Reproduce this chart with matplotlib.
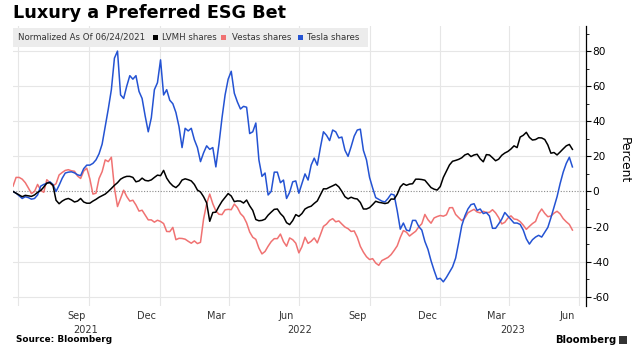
import matplotlib
matplotlib.use("Agg")
import matplotlib.pyplot as plt
import matplotlib.transforms as mtransforms
from matplotlib.patches import Rectangle
import pandas as pd

plt.rcParams['font.family'] = ['DejaVu Sans']
plt.rcParams['axes.unicode_minus'] = False

# sampled every 4 days from the normalisation date
dates = pd.date_range("2021-06-24", periods=183, freq="4D")

lvmh = [0, -1, -2, -3, -2.2, -2.5, -2.8, -2, -0.5, 0.5,
        2.5, 4.8, 5, 3.5, -5, -7, -5.5, -4.5, -4, -4.8,
        -6, -5.5, -4, -6, -6.7, -6.7, -5.5, -4.5, -3.3, -2.4,
        -1.5, 0, 1.7, 3.5, 5, 7, 8, 8.6, 8.6, 8,
        5.5, 6, 7.6, 6.3, 6, 6.6, 8, 9.3, 9, 12,
        7.6, 5, 3.2, 2.2, 3.8, 6.5, 7.2, 6.7, 6, 4,
        0.8, -0.3, -3, -6.5, -17, -12, -11.8, -8.5, -5.6, -3.4,
        -1.2, -2.6, -5.8, -5.4, -5.5, -6.6, -4.9, -8.2, -10.8, -16,
        -16.7, -16.5, -15.8, -13.5, -11.8, -10.2, -10, -12.6, -14.4, -17.8,
        -18.9, -16.6, -13.2, -14.2, -12.6, -10, -9, -8.4, -6.8, -5.4,
        -2, 1.5, 1.5, 2.4, 3.2, 4.1, 2.6, 0, -3, -4.2,
        -3.3, -4, -4.3, -6.3, -10, -10, -9.2, -7.5, -5.6, -6.2,
        -6.5, -6.9, -6.5, -4.3, -4.4, -1.6, 2.6, 4.4, 3.5, 4.2,
        4.4, 7, 7, 6.8, 6.4, 4.3, 2.2, 1.3, 0.8, 2.8,
        8, 11.6, 15.1, 17.2, 17.7, 18.3, 19.2, 20.8, 21.5, 19.9,
        20.8, 21.2, 18.6, 16.9, 21, 20.8, 19.2, 17.5, 18.4, 20.6,
        21.9, 22.8, 24.2, 26, 25, 31, 32, 33.7, 30.8, 29.3,
        29.6, 30.6, 30.5, 29.6, 26.5, 21.8, 22.2, 20.8, 22.5, 24.3,
        26, 26.8, 24]

vestas = [3, 8, 8, 7, 5, 2, -1.2, 0, 4, 0.7,
          -0.5, 6.7, 4.9, 3.2, 4.4, 9.4, 10.8, 12, 12.4, 11.8,
          11.5, 8.8, 7.4, 11.6, 13.3, 7.2, -1.5, -1, 7.4, 11.3,
          18, 17, 19.5, 2, -8.6, -4, 0.7, -2.9, -5.5, -5,
          -7.7, -11.2, -10.7, -13.4, -16.2, -16.2, -17.5, -16.4, -17.1, -18.3,
          -22.8, -22.9, -20.5, -27.5, -26.7, -26.8, -27.2, -28.4, -29.5, -28.2,
          -29.7, -29, -15.7, -7, -1.5, -7, -11.1, -13, -13.2, -10.5,
          -10.2, -10.4, -7.2, -9.2, -12.6, -14.4, -17.9, -23.1, -26.1, -27.3,
          -32.3, -35.6, -34.2, -31.2, -28.6, -26.9, -26.9, -24.3, -28.6, -31.2,
          -26.5, -27.5, -29.5, -35, -31.5, -26.1, -29.6, -28.4, -26.5, -29.3,
          -24.7, -19.9, -18.6, -16.5, -15.5, -17.3, -16.8, -18.6, -20.3, -21.2,
          -22.8, -22.5, -26.1, -31.3, -34.6, -37.2, -38.8, -38.3, -40.8, -42.1,
          -39.4, -38.5, -37.6, -36, -33.6, -31, -26.2, -22.3, -23.2, -25.4,
          -24, -22.7, -20.2, -18.4, -13.1, -16.1, -18.1, -15.1, -14.3, -13.7,
          -14.1, -13.3, -9.3, -9.2, -13.1, -14.9, -16.6, -15.1, -12.2, -11.1,
          -10.2, -11.7, -12.2, -11.3, -12, -11.9, -10.4, -12.2, -14.9, -18.5,
          -17.6, -15.2, -13.9, -15.7, -16, -17.2, -19.2, -21.6, -19.9, -18.3,
          -17.1, -12.6, -10, -12.5, -14.4, -14, -12.4, -11.3, -12.8, -15.5,
          -17.3, -18.8, -22]

tesla = [0, -1, -2.5, -4, -3, -3.5, -4.4, -4, -2, 3,
         4, 4.6, 5.5, 4, 0, 3.5, 7.5, 10.5, 11, 11.2,
         10.6, 9.5, 9, 13, 15, 15, 16, 18, 21.5, 27,
         37, 47, 58, 76, 80, 55, 53, 60, 66, 64,
         66, 57, 53, 43, 34, 42, 58, 62, 75, 55,
         58, 52, 50, 45, 37, 25, 36, 34.5, 36, 29.5,
         25, 17, 22, 26, 24, 25, 14, 27, 42, 55,
         64, 68.5, 56, 51, 47, 48.5, 48, 33, 34, 39,
         18, 8.6, 10.5, -2, 0, 11, 11, 5, 6.5, -4,
         -0.5, 5.5, 6, -1, 4.5, 10, 6.5, 15, 19, 15,
         25, 34, 32, 29, 35, 34, 30.5, 31, 23.5, 20,
         25.5, 31.5, 35, 35.5, 23.4, 18, 8, 2, -3.5, -4.5,
         -5.5, -6, -4, -1.5, -2, -11, -21.5, -18, -22, -22.5,
         -16.5, -16.5, -20, -22, -28.5, -33, -39.5, -45, -50, -49.5,
         -51.5, -49, -46, -43, -38, -29, -19.5, -14, -10, -7.5,
         -7, -10.8, -10, -12.6, -12, -14, -21, -21, -18.5, -15.8,
         -12, -14, -16, -18, -18, -18.8, -22, -27, -30, -27.5,
         -26, -25, -26, -23.3, -20.5, -15, -9, -3, 4.5, 11,
         16, 19.5, 14]

month_ticks = pd.to_datetime(["2021-09-15", "2021-12-15", "2022-03-15", "2022-06-15",
                              "2022-09-15", "2022-12-15", "2023-03-15", "2023-06-15"])
month_labels = ["Sep", "Dec", "Mar", "Jun", "Sep", "Dec", "Mar", "Jun"]
year_pos = pd.to_datetime(["2021-09-27", "2022-07-02", "2023-04-05"])
year_labels = ["2021", "2022", "2023"]
quarter_lines = pd.date_range("2021-07-01", "2023-07-01", freq="QS")

series_names = ["LVMH shares", "Vestas shares", "Tesla shares"]
colors = ["#000000", "#f07272", "#2453d3"]

W, H = 639, 354
fig = plt.figure(figsize=(W / 100, H / 100), dpi=100)
ax = fig.add_axes([13 / W, 1 - 305.5 / H, (586 - 13) / W, (305.5 - 26) / H])

for vals, c in zip([vestas, tesla, lvmh], [colors[1], colors[2], colors[0]]):
    ax.plot(dates, vals, color=c, lw=1.1, zorder=3)

ax.set_xlim(pd.Timestamp("2021-06-24"), pd.Timestamp("2023-07-09 16:00"))
ax.set_ylim(-65, 94.3)

for q in quarter_lines:
    ax.axvline(q, color="#e6e6e6", lw=0.8, zorder=1)
for yv in range(-60, 81, 20):
    if yv != 0:
        ax.axhline(yv, color="#e6e6e6", lw=0.8, zorder=1)
ax.axhline(0, color="#8a8a8a", lw=0.8, ls=(0, (1, 1.5)), zorder=2)

for s in ["left", "top", "bottom"]:
    ax.spines[s].set_visible(False)
ax.spines["right"].set_linewidth(0.9)

ax.yaxis.tick_right()
ax.set_yticks(range(-60, 81, 20))
ax.set_yticks(range(-60, 91, 10), minor=True)
ax.tick_params(axis="y", which="major", length=3.5, width=0.8, pad=1,
               labelsize=7.6, colors="#000000")
ax.tick_params(axis="y", which="minor", length=2, width=0.6)

ax.set_xticks(month_ticks)
ax.set_xticklabels(month_labels)
ax.tick_params(axis="x", length=0, pad=4, labelsize=7, labelcolor="#333333")

trans = mtransforms.blended_transform_factory(ax.transData, ax.transAxes)
for yp, yl in zip(year_pos, year_labels):
    ax.text(yp, -0.089, yl, transform=trans, ha="center", va="center",
            fontsize=7, color="#333333")

# title and header band
fig.text(13 / W, 1 - 13.5 / H, "Luxury a Preferred ESG Bet", fontsize=12.7,
         fontweight="bold", ha="left", va="center")
fig.patches.append(Rectangle((13 / W, 1 - 47 / H), (368 - 13) / W, 19 / H,
                             transform=fig.transFigure, facecolor="#ececec",
                             edgecolor="none", zorder=5))
fig.text(18 / W, 1 - 37.5 / H, "Normalized As Of 06/24/2021", fontsize=6.2,
         color="#333333", ha="left", va="center", zorder=6)
sq_x = [153, 221, 298]
txt_x = [162, 232, 307]
for sx, tx, name, c in zip(sq_x, txt_x, series_names, colors):
    fig.patches.append(Rectangle((sx / W, 1 - 40 / H), 5 / W, 5 / H,
                                 transform=fig.transFigure, facecolor=c,
                                 edgecolor="none", zorder=6))
    fig.text(tx / W, 1 - 37.5 / H, name, fontsize=6.2, color="#333333",
             ha="left", va="center", zorder=6)

fig.text(624 / W, 1 - 160 / H, "Percent", rotation=270, fontsize=8.8,
         ha="center", va="center")

fig.text(16 / W, 1 - 340 / H, "Source: Bloomberg", fontsize=6.4,
         fontweight="bold", ha="left", va="center")
fig.text(555 / W, 1 - 340 / H, "Bloomberg", fontsize=7.2, fontweight="bold",
         ha="left", va="center")
fig.patches.append(Rectangle((619 / W, 1 - 344 / H), 8 / W, 8 / H,
                             transform=fig.transFigure, facecolor="#333333",
                             edgecolor="none"))

fig.savefig("out.png", dpi=100)
